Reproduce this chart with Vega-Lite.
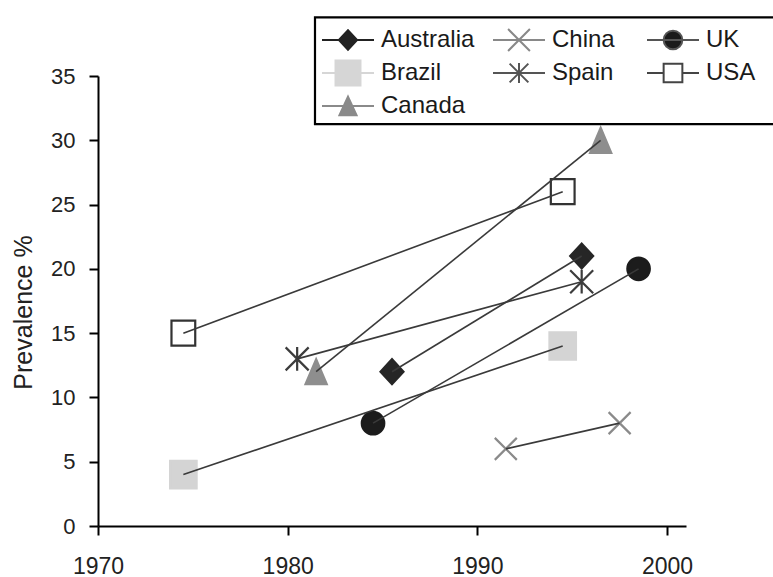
{
  "$schema": "https://vega.github.io/schema/vega-lite/v6.json",
  "width": 588,
  "height": 450,
  "autosize": {"type": "none"},
  "padding": {"left": 98, "top": 76, "right": 87, "bottom": 51},
  "background": "white",
  "config": {
    "view": {"stroke": null},
    "font": "Liberation Sans",
    "axis": {
      "grid": false,
      "domainColor": "black",
      "domainWidth": 2,
      "tickColor": "black",
      "tickWidth": 2,
      "tickSize": 9,
      "labelColor": "#222",
      "labelFont": "Liberation Sans",
      "titleFont": "Liberation Sans",
      "titleFontWeight": "normal",
      "titleColor": "#222"
    },
    "legend": {
      "orient": "none",
      "direction": "vertical",
      "rowPadding": 6,
      "padding": 0,
      "clipHeight": 27,
      "symbolSize": 2704,
      "symbolStrokeWidth": 2,
      "labelFont": "Liberation Sans",
      "labelFontSize": 24,
      "labelColor": "#1a1a1a",
      "labelOffset": 6,
      "labelLimit": 300
    }
  },
  "datasets": {
    "frame": [{"part": "legend frame"}]
  },
  "data": {
    "values": [
      {"country": "Australia", "year": 1985.5, "prevalence": 12},
      {"country": "Australia", "year": 1995.5, "prevalence": 21},
      {"country": "Brazil", "year": 1974.5, "prevalence": 4},
      {"country": "Brazil", "year": 1994.5, "prevalence": 14},
      {"country": "Canada", "year": 1981.5, "prevalence": 12},
      {"country": "Canada", "year": 1996.5, "prevalence": 30},
      {"country": "China", "year": 1991.5, "prevalence": 6},
      {"country": "China", "year": 1997.5, "prevalence": 8},
      {"country": "Spain", "year": 1980.5, "prevalence": 13},
      {"country": "Spain", "year": 1995.5, "prevalence": 19},
      {"country": "UK", "year": 1984.5, "prevalence": 8},
      {"country": "UK", "year": 1998.5, "prevalence": 20},
      {"country": "USA", "year": 1974.5, "prevalence": 15},
      {"country": "USA", "year": 1994.5, "prevalence": 26}
    ]
  },
  "layer": [
    {
      "mark": {"type": "point", "size": 625, "strokeWidth": 2.2, "opacity": 1},
      "encoding": {
        "x": {
          "field": "year", "type": "quantitative",
          "scale": {"domain": [1970, 2001], "nice": false, "zero": false},
          "axis": {"values": [1970, 1980, 1990, 2000], "format": "d", "title": null, "labelFontSize": 23, "labelPadding": 20, "labelDx": 5, "labelFlush": false}
        },
        "y": {
          "field": "prevalence", "type": "quantitative",
          "scale": {"domain": [0, 35], "nice": false},
          "axis": {"values": [0, 5, 10, 15, 20, 25, 30, 35], "title": "Prevalence %", "labelFontSize": 22, "labelPadding": 14, "labelDy": 2, "titleFontSize": 25, "titleX": -75, "titleY": 236, "titleAngle": -90, "titleAlign": "center", "titleBaseline": "middle"}
        },
        "shape": {
          "field": "country", "type": "nominal", "legend": null,
          "scale": {
            "domain": ["Australia", "China", "UK", "Brazil", "Spain", "USA", "Canada"],
            "range": [
              "M-0.92,0L0,-1L0.92,0L0,1Z",
              "M-0.88,-0.88L0.88,0.88M-0.88,0.88L0.88,-0.88",
              "M-0.9,0A0.9,0.9 0 1,0 0.9,0A0.9,0.9 0 1,0 -0.9,0Z",
              "M-1.06,-1.1H1.06V1.1H-1.06Z",
              "M-0.92,-0.92L0.92,0.92M-0.92,0.92L0.92,-0.92M0,-0.95V0.95",
              "M-0.95,-1H0.95V1H-0.95Z",
              "M0,-1L0.85,1H-0.85Z"
            ]
          }
        },
        "fill": {
          "field": "country", "type": "nominal", "legend": null,
          "scale": {
            "domain": ["Australia", "China", "UK", "Brazil", "Spain", "USA", "Canada"],
            "range": ["#262626", "transparent", "#1c1c1c", "#d4d4d4", "transparent", "transparent", "#8e8e8e"]
          }
        },
        "stroke": {
          "field": "country", "type": "nominal", "legend": null,
          "scale": {
            "domain": ["Australia", "China", "UK", "Brazil", "Spain", "USA", "Canada"],
            "range": ["#262626", "#8a8a8a", "#1c1c1c", "#d4d4d4", "#3c3c3c", "#333333", "#8e8e8e"]
          }
        }
      }
    },
    {
      "mark": {"type": "line", "strokeWidth": 1.6, "color": "#3a3a3a"},
      "encoding": {
        "x": {"field": "year", "type": "quantitative"},
        "y": {"field": "prevalence", "type": "quantitative"},
        "detail": {"field": "country", "type": "nominal"},
        "order": {"field": "year", "type": "quantitative"}
      }
    },
    {
      "data": {"name": "frame"},
      "mark": {"type": "rect", "fill": "white", "stroke": "black", "strokeWidth": 2.2, "clip": false},
      "encoding": {
        "x": {"datum": 1981.44, "type": "quantitative"},
        "x2": {"datum": 2007},
        "y": {"datum": 39.56, "type": "quantitative"},
        "y2": {"datum": 31.25}
      }
    },
    {
      "transform": [{"filter": "datum.year < 0"}],
      "mark": {"type": "point", "size": 2704, "strokeWidth": 2, "opacity": 1},
      "encoding": {
        "x": {"field": "year", "type": "quantitative"},
        "y": {"field": "prevalence", "type": "quantitative"},
        "shape": {
          "field": "country", "type": "nominal",
          "scale": {
            "domain": ["Australia", "Brazil", "Canada"],
            "range": [
              "M-1,0H1M-0.35,0L0,-0.38L0.35,0L0,0.38Z",
              "M-1,0H1M-0.48,-0.5H0.48V0.5H-0.48Z",
              "M-1,0H1M0,-0.36L0.33,0.36H-0.33Z"
            ]
          },
          "legend": {"title": null, "legendX": 223, "legendY": -49.5}
        },
        "fill": {
          "field": "country", "type": "nominal",
          "scale": {"domain": ["Australia", "Brazil", "Canada"], "range": ["#222222", "#d6d6d6", "#8a8a8a"]}
        },
        "stroke": {
          "field": "country", "type": "nominal",
          "scale": {"domain": ["Australia", "Brazil", "Canada"], "range": ["#222222", "#d6d6d6", "#8a8a8a"]}
        }
      }
    },
    {
      "transform": [{"filter": "datum.year < 0"}],
      "mark": {"type": "point", "size": 2704, "strokeWidth": 2, "opacity": 1},
      "encoding": {
        "x": {"field": "year", "type": "quantitative"},
        "y": {"field": "prevalence", "type": "quantitative"},
        "shape": {
          "field": "country", "type": "nominal",
          "scale": {
            "domain": ["China", "Spain"],
            "range": [
              "M-1,0H1M-0.42,-0.42L0.42,0.42M-0.42,0.42L0.42,-0.42",
              "M-1,0H1M-0.36,-0.36L0.36,0.36M-0.36,0.36L0.36,-0.36M0,-0.38V0.38"
            ]
          },
          "legend": {"title": null, "legendX": 394, "legendY": -49.5}
        },
        "fill": {
          "field": "country", "type": "nominal",
          "scale": {"domain": ["China", "Spain"], "range": ["transparent", "transparent"]}
        },
        "stroke": {
          "field": "country", "type": "nominal",
          "scale": {"domain": ["China", "Spain"], "range": ["#888888", "#555555"]}
        }
      }
    },
    {
      "transform": [{"filter": "datum.year < 0"}],
      "mark": {"type": "point", "size": 2704, "strokeWidth": 2, "opacity": 1},
      "encoding": {
        "x": {"field": "year", "type": "quantitative"},
        "y": {"field": "prevalence", "type": "quantitative"},
        "shape": {
          "field": "country", "type": "nominal",
          "scale": {
            "domain": ["UK", "USA"],
            "range": [
              "M-1,0H1M-0.36,0A0.36,0.36 0 1,0 0.36,0A0.36,0.36 0 1,0 -0.36,0Z",
              "M-1,0H-0.36M0.36,0H1M-0.36,-0.36H0.36V0.36H-0.36Z"
            ]
          },
          "legend": {"title": null, "legendX": 548, "legendY": -49.5}
        },
        "fill": {
          "field": "country", "type": "nominal",
          "scale": {"domain": ["UK", "USA"], "range": ["#1a1a1a", "white"]}
        },
        "stroke": {
          "field": "country", "type": "nominal",
          "scale": {"domain": ["UK", "USA"], "range": ["#555555", "#444444"]}
        }
      }
    }
  ],
  "resolve": {"scale": {"shape": "independent", "fill": "independent", "stroke": "independent"}}
}
